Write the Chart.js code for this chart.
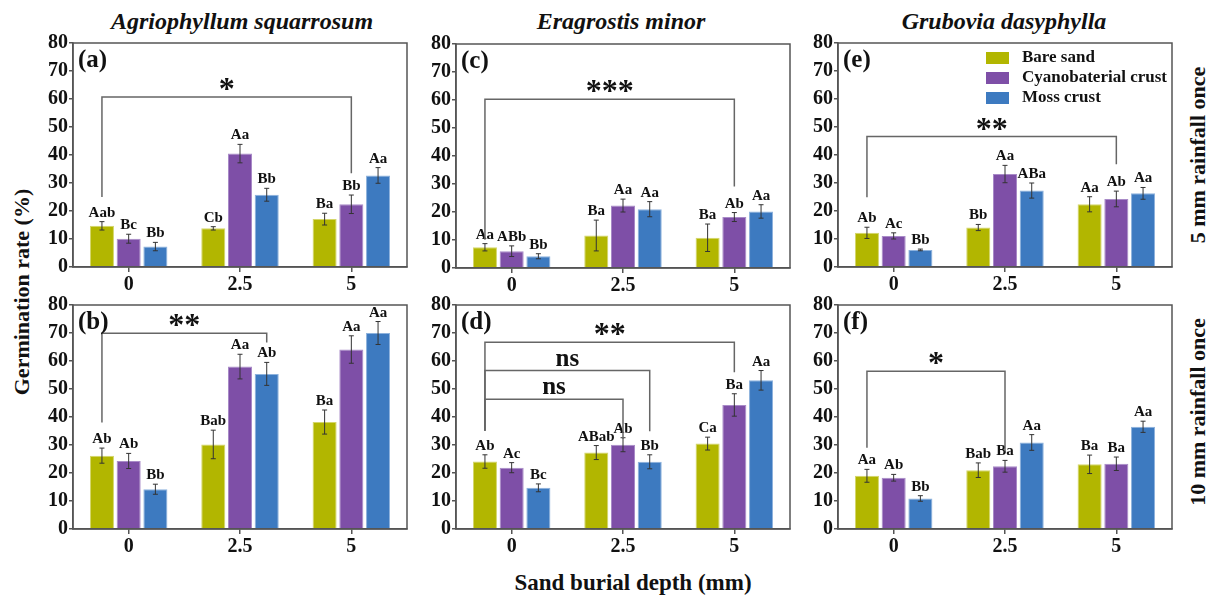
<!DOCTYPE html>
<html>
<head>
<meta charset="utf-8">
<script src="https://cdn.jsdelivr.net/npm/chart.js@4"></script>
<style>
  body { margin: 0; background: #fff; }
  #view { position: relative; width: 1213px; height: 599px; overflow: hidden; font-family: 'Liberation Serif', 'Times New Roman', serif; }
  canvas { position: absolute; }
  .txt { position: absolute; transform: translate(-50%, -50%); white-space: nowrap; font-weight: bold; color: #111; font-size: 22px; }
  .title { font-style: italic; font-size: 24px; }
  .rot { transform: translate(-50%, -50%) rotate(-90deg); }
</style>
</head>
<body>
<div id="view">
  <div class="txt title" style="left:242px; top:21px;">Agriophyllum squarrosum</div>
  <div class="txt title" style="left:621px; top:21px;">Eragrostis minor</div>
  <div class="txt title" style="left:1004px; top:21px;">Grubovia dasyphylla</div>
  <div class="txt rot" style="left:22px; top:292px;">Germination rate (%)</div>
  <div class="txt" style="left:633px; top:583px; font-size:23px;">Sand burial depth (mm)</div>
  <div class="txt rot" style="left:1198px; top:155px;">5 mm rainfall once</div>
  <div class="txt rot" style="left:1198px; top:412px;">10 mm rainfall once</div>
</div>
<script>
'use strict';

// sand burial depth (mm)
const depths = ['0', '2.5', '5'];
const seriesNames = ['Bare sand', 'Cyanobaterial crust', 'Moss crust'];

// (a) Agriophyllum squarrosum, 5 mm
const aBare = [14.7, 13.8, 17.1];
const aCyano = [10.1, 40.5, 22.4];
const aMoss = [7.3, 25.8, 32.7];
const aBareErr = [1.5, 0.6, 2.1];
const aCyanoErr = [1.6, 3.3, 3.3];
const aMossErr = [1.5, 2.3, 2.8];
const aBareSig = ['Aab', 'Cb', 'Ba'];
const aCyanoSig = ['Bc', 'Aa', 'Bb'];
const aMossSig = ['Bb', 'Bb', 'Aa'];
const aBrackets = [{from: [0, 0], to: [2, 1], top: 60.7, ends: [25, 33.5], text: '*'}];

// (b) Agriophyllum squarrosum, 10 mm
const bBare = [26.2, 30.2, 38.2];
const bCyano = [24.3, 58.0, 64.1];
const bMoss = [14.2, 55.4, 70.0];
const bBareErr = [2.7, 5.1, 4.3];
const bCyanoErr = [2.7, 4.4, 4.9];
const bMossErr = [1.8, 4.1, 4.1];
const bBareSig = ['Ab', 'Bab', 'Ba'];
const bCyanoSig = ['Ab', 'Aa', 'Aa'];
const bMossSig = ['Bb', 'Ab', 'Aa'];
const bBrackets = [{from: [0, 0], to: [1, 2], top: 69.9, ends: [38, 66.6], text: '**'}];

// (c) Eragrostis minor, 5 mm
const cBare = [7.4, 11.6, 10.8];
const cCyano = [6.0, 22.3, 18.2];
const cMoss = [4.2, 21.0, 20.2];
const cBareErr = [1.3, 5.5, 4.9];
const cCyanoErr = [1.9, 2.3, 1.6];
const cMossErr = [0.9, 2.7, 2.4];
const cBareSig = ['Aa', 'Ba', 'Ba'];
const cCyanoSig = ['ABb', 'Aa', 'Ab'];
const cMossSig = ['Bb', 'Aa', 'Aa'];
const cBrackets = [{from: [0, 0], to: [2, 1], top: 60.3, ends: [10.1, 29.1], text: '***'}];

// (d) Eragrostis minor, 10 mm
const dBare = [24.1, 27.3, 30.5];
const dCyano = [21.9, 30.1, 44.3];
const dMoss = [14.7, 24.0, 53.1];
const dBareErr = [2.4, 2.5, 2.3];
const dCyanoErr = [1.8, 2.5, 4.0];
const dMossErr = [1.4, 2.5, 3.5];
const dBareSig = ['Ab', 'ABab', 'Ca'];
const dCyanoSig = ['Ac', 'Ab', 'Ba'];
const dMossSig = ['Bc', 'Bb', 'Aa'];
const dBrackets = [
  {from: [0, 0], to: [2, 1], top: 66.7, ends: [35.1, 56], text: '**'},
  {from: [0, 0], to: [1, 2], top: 56.6, ends: [35.1, 34.9], text: 'ns'},
  {from: [0, 0], to: [1, 1], top: 46.3, ends: [35.1, 32.2], text: 'ns'}
];

// (e) Grubovia dasyphylla, 5 mm
const eBare = [12.2, 14.1, 22.4];
const eCyano = [11.1, 33.2, 24.3];
const eMoss = [6.1, 27.3, 26.3];
const eBareErr = [2.0, 1.1, 2.7];
const eCyanoErr = [1.1, 3.1, 2.8];
const eMossErr = [0.3, 2.7, 2.1];
const eBareSig = ['Ab', 'Bb', 'Aa'];
const eCyanoSig = ['Ac', 'Aa', 'Ab'];
const eMossSig = ['Bb', 'ABa', 'Aa'];
const eBrackets = [{from: [0, 0], to: [2, 1], top: 46.6, ends: [24.9, 36.7], text: '**'}];

// (f) Grubovia dasyphylla, 10 mm
const fBare = [19.0, 21.0, 23.1];
const fCyano = [18.3, 22.4, 23.3];
const fMoss = [10.9, 30.9, 36.5];
const fBareErr = [2.3, 2.6, 3.3];
const fCyanoErr = [1.2, 2.1, 2.4];
const fMossErr = [1.0, 2.8, 2.0];
const fBareSig = ['Aa', 'Bab', 'Ba'];
const fCyanoSig = ['Ab', 'Ba', 'Ba'];
const fMossSig = ['Bb', 'Aa', 'Aa'];
const fBrackets = [{from: [0, 0], to: [1, 1], top: 56.3, ends: [29, 27.8], text: '*'}];

const yTicks = [0, 10, 20, 30, 40, 50, 60, 70, 80];

const fillColors = ['#b2b600', '#7e4fa7', '#3d7ac0'];
const edgeColors = ['#d4d66a', '#a98bc8', '#8db2dd'];
const SERIF = "'Liberation Serif', 'Times New Roman', serif";

const panels = [
  {label: '(a)', left: 73, top: 43, means: [aBare, aCyano, aMoss], errs: [aBareErr, aCyanoErr, aMossErr], sigs: [aBareSig, aCyanoSig, aMossSig], brackets: aBrackets},
  {label: '(b)', left: 73, top: 305, means: [bBare, bCyano, bMoss], errs: [bBareErr, bCyanoErr, bMossErr], sigs: [bBareSig, bCyanoSig, bMossSig], brackets: bBrackets},
  {label: '(c)', left: 456, top: 44, means: [cBare, cCyano, cMoss], errs: [cBareErr, cCyanoErr, cMossErr], sigs: [cBareSig, cCyanoSig, cMossSig], brackets: cBrackets},
  {label: '(d)', left: 456, top: 305, means: [dBare, dCyano, dMoss], errs: [dBareErr, dCyanoErr, dMossErr], sigs: [dBareSig, dCyanoSig, dMossSig], brackets: dBrackets},
  {label: '(e)', left: 838, top: 43, means: [eBare, eCyano, eMoss], errs: [eBareErr, eCyanoErr, eMossErr], sigs: [eBareSig, eCyanoSig, eMossSig], brackets: eBrackets, legend: true},
  {label: '(f)', left: 838, top: 305, means: [fBare, fCyano, fMoss], errs: [fBareErr, fCyanoErr, fMossErr], sigs: [fBareSig, fCyanoSig, fMossSig], brackets: fBrackets}
];

// plot area size and the room round it inside each canvas
const PW = 334, PH = 224;
const PAD_L = 44, PAD_T = 14, PAD_R = 6, PAD_B = 32;

const annotate = {
  id: 'annotate',
  afterDatasetsDraw(chart, args, opts) {
    const p = opts.panel;
    const ctx = chart.ctx;
    const area = chart.chartArea;
    const y = chart.scales.y;
    ctx.save();

    // frame
    ctx.strokeStyle = '#555';
    ctx.lineWidth = 1.5;
    ctx.strokeRect(area.left, area.top, area.right - area.left, area.bottom - area.top);

    // error bars and letters
    ctx.font = 'bold 15px ' + SERIF;
    ctx.textAlign = 'center';
    ctx.textBaseline = 'alphabetic';
    for (let s = 0; s < 3; s++) {
      const meta = chart.getDatasetMeta(s);
      meta.data.forEach((bar, i) => {
        const m = p.means[s][i], e = p.errs[s][i];
        const yt = y.getPixelForValue(m + e);
        const yb = y.getPixelForValue(m - e);
        ctx.strokeStyle = '#333';
        ctx.lineWidth = 1;
        ctx.beginPath();
        ctx.moveTo(bar.x, yt); ctx.lineTo(bar.x, yb);
        ctx.moveTo(bar.x - 2.5, yt); ctx.lineTo(bar.x + 2.5, yt);
        ctx.moveTo(bar.x - 2.5, yb); ctx.lineTo(bar.x + 2.5, yb);
        ctx.stroke();
        ctx.fillStyle = '#111';
        ctx.fillText(p.sigs[s][i], bar.x, yt - 5);
      });
    }

    // significance brackets
    p.brackets.forEach(b => {
      const x1 = chart.getDatasetMeta(b.from[1]).data[b.from[0]].x;
      const x2 = chart.getDatasetMeta(b.to[1]).data[b.to[0]].x;
      const yTop = y.getPixelForValue(b.top);
      ctx.strokeStyle = '#666';
      ctx.lineWidth = 1.5;
      ctx.beginPath();
      ctx.moveTo(x1, y.getPixelForValue(b.ends[0]));
      ctx.lineTo(x1, yTop);
      ctx.lineTo(x2, yTop);
      ctx.lineTo(x2, y.getPixelForValue(b.ends[1]));
      ctx.stroke();
      ctx.fillStyle = '#111';
      if (b.text === 'ns') {
        ctx.font = 'bold 25px ' + SERIF;
        ctx.fillText(b.text, (x1 + x2) / 2, yTop - 5);
      } else {
        ctx.font = 'bold 32px ' + SERIF;
        ctx.fillText(b.text, (x1 + x2) / 2, yTop + 2);
      }
    });

    // panel label
    ctx.textAlign = 'left';
    ctx.font = 'bold 25px ' + SERIF;
    ctx.fillStyle = '#111';
    ctx.fillText(p.label, area.left + 5, area.top + 24);

    // legend inside (e)
    if (p.legend) {
      ctx.font = 'bold 17px ' + SERIF;
      ctx.textBaseline = 'middle';
      seriesNames.forEach((name, s) => {
        const ly = area.top + 15 + s * 20;
        ctx.fillStyle = fillColors[s];
        ctx.fillRect(area.left + 148, ly - 6, 23, 12);
        ctx.fillStyle = '#111';
        ctx.fillText(name, area.left + 184, ly);
      });
    }
    ctx.restore();
  }
};

const view = document.getElementById('view');

panels.forEach(p => {
  const canvas = document.createElement('canvas');
  const w = PAD_L + PW + PAD_R, h = PAD_T + PH + PAD_B;
  canvas.width = w; canvas.height = h;
  canvas.style.width = w + 'px'; canvas.style.height = h + 'px';
  canvas.style.left = (p.left - PAD_L) + 'px';
  canvas.style.top = (p.top - PAD_T) + 'px';
  view.appendChild(canvas);

  new Chart(canvas.getContext('2d'), {
    type: 'bar',
    data: {
      labels: depths,
      datasets: seriesNames.map((name, s) => ({
        label: name,
        data: p.means[s],
        backgroundColor: fillColors[s],
        borderColor: edgeColors[s],
        borderWidth: 1,
        categoryPercentage: 0.72,
        barPercentage: 0.9
      }))
    },
    options: {
      responsive: false,
      animation: false,
      layout: {padding: {top: PAD_T, right: PAD_R, left: 0, bottom: 0}},
      plugins: {
        legend: {display: false},
        tooltip: {enabled: false},
        annotate: {panel: p}
      },
      scales: {
        x: {
          offset: true,
          grid: {display: true, drawOnChartArea: false, drawTicks: true, tickLength: 5, offset: false, color: '#555', lineWidth: 1.5},
          border: {display: true, color: '#555', width: 1.5},
          ticks: {color: '#111', padding: 1, font: {family: SERIF, weight: 'bold', size: 20}},
          afterFit: sc => { sc.height = PAD_B; }
        },
        y: {
          min: 0, max: 80,
          afterBuildTicks: sc => { sc.ticks = yTicks.map(v => ({value: v})); },
          grid: {display: true, drawOnChartArea: false, drawTicks: true, tickLength: 4, color: '#555', lineWidth: 1.5},
          border: {display: true, color: '#555', width: 1.5},
          ticks: {color: '#111', padding: 1, font: {family: SERIF, weight: 'bold', size: 20}},
          afterFit: sc => { sc.width = PAD_L; }
        }
      }
    },
    plugins: [annotate]
  });
});
</script>
</body>
</html>
